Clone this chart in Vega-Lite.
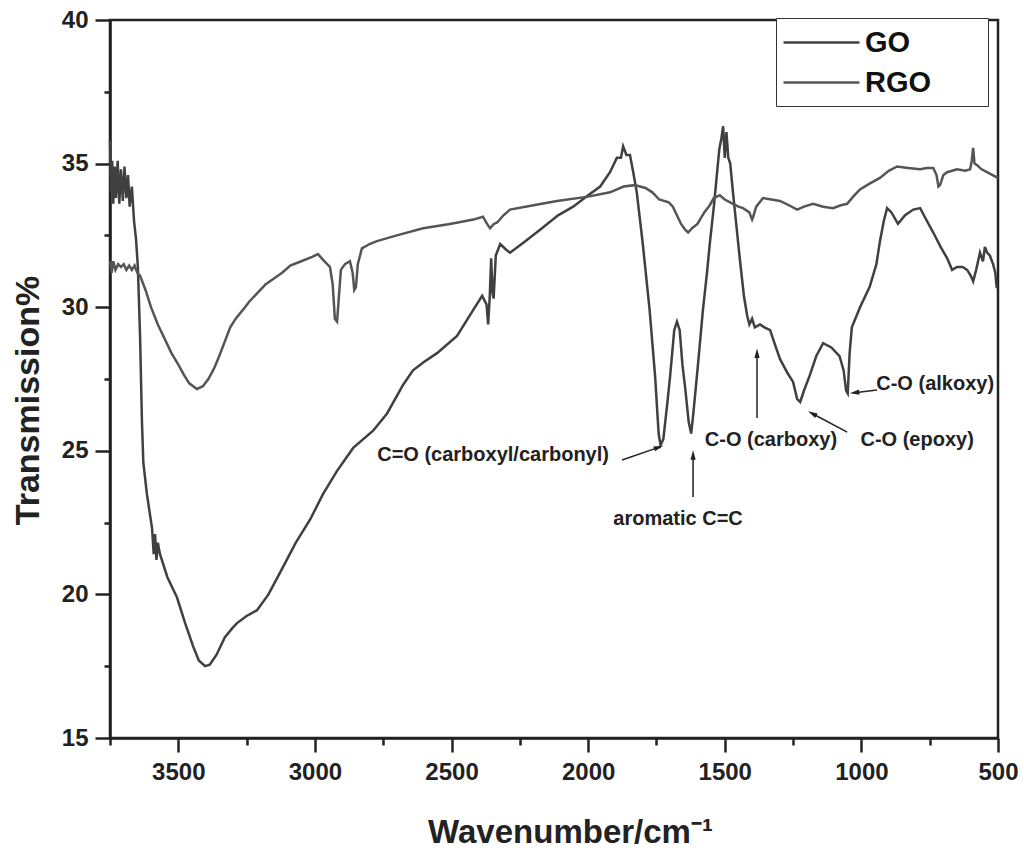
{
  "$schema": "https://vega.github.io/schema/vega-lite/v6.json",
  "width": 888,
  "height": 718,
  "autosize": {"type": "none"},
  "padding": {"left": 110, "top": 20, "right": 26, "bottom": 127},
  "background": "white",
  "config": {
    "font": "Liberation Sans",
    "view": {"stroke": "#222222", "strokeWidth": 2.5}
  },
  "datasets": {
    "spectra": [
      {"sample": "GO", "wavenumber": 3750, "transmission": 35.8},
      {"sample": "GO", "wavenumber": 3746, "transmission": 34.0},
      {"sample": "GO", "wavenumber": 3742, "transmission": 35.1},
      {"sample": "GO", "wavenumber": 3738, "transmission": 33.6},
      {"sample": "GO", "wavenumber": 3733, "transmission": 34.9},
      {"sample": "GO", "wavenumber": 3728, "transmission": 33.8},
      {"sample": "GO", "wavenumber": 3722, "transmission": 35.1},
      {"sample": "GO", "wavenumber": 3716, "transmission": 33.6},
      {"sample": "GO", "wavenumber": 3710, "transmission": 34.8},
      {"sample": "GO", "wavenumber": 3703, "transmission": 33.7},
      {"sample": "GO", "wavenumber": 3697, "transmission": 34.9},
      {"sample": "GO", "wavenumber": 3690, "transmission": 33.8},
      {"sample": "GO", "wavenumber": 3684, "transmission": 34.6},
      {"sample": "GO", "wavenumber": 3678, "transmission": 33.5},
      {"sample": "GO", "wavenumber": 3670, "transmission": 34.2},
      {"sample": "GO", "wavenumber": 3662, "transmission": 33.0},
      {"sample": "GO", "wavenumber": 3655, "transmission": 32.4},
      {"sample": "GO", "wavenumber": 3648, "transmission": 31.4},
      {"sample": "GO", "wavenumber": 3640, "transmission": 29.0},
      {"sample": "GO", "wavenumber": 3633, "transmission": 26.0},
      {"sample": "GO", "wavenumber": 3628, "transmission": 24.6},
      {"sample": "GO", "wavenumber": 3615, "transmission": 23.5},
      {"sample": "GO", "wavenumber": 3604, "transmission": 22.8},
      {"sample": "GO", "wavenumber": 3596, "transmission": 22.3},
      {"sample": "GO", "wavenumber": 3590, "transmission": 21.4},
      {"sample": "GO", "wavenumber": 3585, "transmission": 22.1},
      {"sample": "GO", "wavenumber": 3580, "transmission": 21.2},
      {"sample": "GO", "wavenumber": 3575, "transmission": 21.8},
      {"sample": "GO", "wavenumber": 3567, "transmission": 21.4},
      {"sample": "GO", "wavenumber": 3540, "transmission": 20.6},
      {"sample": "GO", "wavenumber": 3505, "transmission": 19.9},
      {"sample": "GO", "wavenumber": 3475, "transmission": 19.0},
      {"sample": "GO", "wavenumber": 3446, "transmission": 18.2},
      {"sample": "GO", "wavenumber": 3425, "transmission": 17.7},
      {"sample": "GO", "wavenumber": 3402, "transmission": 17.5},
      {"sample": "GO", "wavenumber": 3385, "transmission": 17.55},
      {"sample": "GO", "wavenumber": 3360, "transmission": 17.9},
      {"sample": "GO", "wavenumber": 3330, "transmission": 18.5},
      {"sample": "GO", "wavenumber": 3300, "transmission": 18.85},
      {"sample": "GO", "wavenumber": 3285, "transmission": 19.0},
      {"sample": "GO", "wavenumber": 3250, "transmission": 19.25},
      {"sample": "GO", "wavenumber": 3212, "transmission": 19.45},
      {"sample": "GO", "wavenumber": 3170, "transmission": 20.0},
      {"sample": "GO", "wavenumber": 3117, "transmission": 20.95},
      {"sample": "GO", "wavenumber": 3070, "transmission": 21.8},
      {"sample": "GO", "wavenumber": 3018, "transmission": 22.6},
      {"sample": "GO", "wavenumber": 2970, "transmission": 23.5},
      {"sample": "GO", "wavenumber": 2919, "transmission": 24.3},
      {"sample": "GO", "wavenumber": 2860, "transmission": 25.1},
      {"sample": "GO", "wavenumber": 2787, "transmission": 25.7},
      {"sample": "GO", "wavenumber": 2736, "transmission": 26.3},
      {"sample": "GO", "wavenumber": 2677, "transmission": 27.3},
      {"sample": "GO", "wavenumber": 2641, "transmission": 27.8},
      {"sample": "GO", "wavenumber": 2600, "transmission": 28.1},
      {"sample": "GO", "wavenumber": 2553, "transmission": 28.4},
      {"sample": "GO", "wavenumber": 2480, "transmission": 29.0},
      {"sample": "GO", "wavenumber": 2421, "transmission": 29.9},
      {"sample": "GO", "wavenumber": 2388, "transmission": 30.4},
      {"sample": "GO", "wavenumber": 2372, "transmission": 30.1},
      {"sample": "GO", "wavenumber": 2366, "transmission": 29.4},
      {"sample": "GO", "wavenumber": 2360, "transmission": 30.4},
      {"sample": "GO", "wavenumber": 2355, "transmission": 31.7},
      {"sample": "GO", "wavenumber": 2350, "transmission": 30.5},
      {"sample": "GO", "wavenumber": 2346, "transmission": 30.3},
      {"sample": "GO", "wavenumber": 2338, "transmission": 31.8},
      {"sample": "GO", "wavenumber": 2322, "transmission": 32.2},
      {"sample": "GO", "wavenumber": 2300, "transmission": 32.0},
      {"sample": "GO", "wavenumber": 2286, "transmission": 31.9},
      {"sample": "GO", "wavenumber": 2230, "transmission": 32.3},
      {"sample": "GO", "wavenumber": 2176, "transmission": 32.7},
      {"sample": "GO", "wavenumber": 2110, "transmission": 33.2},
      {"sample": "GO", "wavenumber": 2055, "transmission": 33.5},
      {"sample": "GO", "wavenumber": 2000, "transmission": 33.9},
      {"sample": "GO", "wavenumber": 1956, "transmission": 34.2},
      {"sample": "GO", "wavenumber": 1920, "transmission": 34.7},
      {"sample": "GO", "wavenumber": 1895, "transmission": 35.2},
      {"sample": "GO", "wavenumber": 1880, "transmission": 35.2},
      {"sample": "GO", "wavenumber": 1872, "transmission": 35.6},
      {"sample": "GO", "wavenumber": 1860, "transmission": 35.3},
      {"sample": "GO", "wavenumber": 1847, "transmission": 35.3},
      {"sample": "GO", "wavenumber": 1835, "transmission": 34.7},
      {"sample": "GO", "wavenumber": 1822, "transmission": 34.0},
      {"sample": "GO", "wavenumber": 1800, "transmission": 32.2},
      {"sample": "GO", "wavenumber": 1775, "transmission": 29.9},
      {"sample": "GO", "wavenumber": 1755, "transmission": 27.6},
      {"sample": "GO", "wavenumber": 1742, "transmission": 25.6},
      {"sample": "GO", "wavenumber": 1735, "transmission": 25.2},
      {"sample": "GO", "wavenumber": 1725, "transmission": 25.4},
      {"sample": "GO", "wavenumber": 1712, "transmission": 26.5},
      {"sample": "GO", "wavenumber": 1700, "transmission": 27.6},
      {"sample": "GO", "wavenumber": 1685, "transmission": 29.2},
      {"sample": "GO", "wavenumber": 1675, "transmission": 29.5},
      {"sample": "GO", "wavenumber": 1665, "transmission": 29.2},
      {"sample": "GO", "wavenumber": 1655, "transmission": 28.0},
      {"sample": "GO", "wavenumber": 1645, "transmission": 27.2},
      {"sample": "GO", "wavenumber": 1632, "transmission": 26.0},
      {"sample": "GO", "wavenumber": 1623, "transmission": 25.6},
      {"sample": "GO", "wavenumber": 1615, "transmission": 26.3},
      {"sample": "GO", "wavenumber": 1600, "transmission": 27.8},
      {"sample": "GO", "wavenumber": 1580, "transmission": 29.9},
      {"sample": "GO", "wavenumber": 1565, "transmission": 31.2},
      {"sample": "GO", "wavenumber": 1555, "transmission": 32.2},
      {"sample": "GO", "wavenumber": 1540, "transmission": 33.5},
      {"sample": "GO", "wavenumber": 1530, "transmission": 34.5},
      {"sample": "GO", "wavenumber": 1520, "transmission": 35.5},
      {"sample": "GO", "wavenumber": 1512, "transmission": 35.9},
      {"sample": "GO", "wavenumber": 1506, "transmission": 36.3},
      {"sample": "GO", "wavenumber": 1500, "transmission": 35.2},
      {"sample": "GO", "wavenumber": 1494, "transmission": 36.1},
      {"sample": "GO", "wavenumber": 1487, "transmission": 35.2},
      {"sample": "GO", "wavenumber": 1480, "transmission": 35.0},
      {"sample": "GO", "wavenumber": 1470, "transmission": 34.0},
      {"sample": "GO", "wavenumber": 1457, "transmission": 32.8},
      {"sample": "GO", "wavenumber": 1444, "transmission": 31.6},
      {"sample": "GO", "wavenumber": 1430, "transmission": 30.4},
      {"sample": "GO", "wavenumber": 1418, "transmission": 29.7},
      {"sample": "GO", "wavenumber": 1410, "transmission": 29.4},
      {"sample": "GO", "wavenumber": 1400, "transmission": 29.6},
      {"sample": "GO", "wavenumber": 1390, "transmission": 29.3},
      {"sample": "GO", "wavenumber": 1371, "transmission": 29.4},
      {"sample": "GO", "wavenumber": 1355, "transmission": 29.3},
      {"sample": "GO", "wavenumber": 1334, "transmission": 29.2},
      {"sample": "GO", "wavenumber": 1320, "transmission": 28.8},
      {"sample": "GO", "wavenumber": 1298, "transmission": 28.2},
      {"sample": "GO", "wavenumber": 1270, "transmission": 27.7},
      {"sample": "GO", "wavenumber": 1250, "transmission": 27.4},
      {"sample": "GO", "wavenumber": 1235, "transmission": 26.8},
      {"sample": "GO", "wavenumber": 1224, "transmission": 26.7},
      {"sample": "GO", "wavenumber": 1210, "transmission": 27.1},
      {"sample": "GO", "wavenumber": 1190, "transmission": 27.6},
      {"sample": "GO", "wavenumber": 1165, "transmission": 28.3},
      {"sample": "GO", "wavenumber": 1140, "transmission": 28.75},
      {"sample": "GO", "wavenumber": 1110, "transmission": 28.6},
      {"sample": "GO", "wavenumber": 1080, "transmission": 28.3},
      {"sample": "GO", "wavenumber": 1065, "transmission": 27.8},
      {"sample": "GO", "wavenumber": 1056, "transmission": 27.1},
      {"sample": "GO", "wavenumber": 1050, "transmission": 27.0},
      {"sample": "GO", "wavenumber": 1043, "transmission": 28.4},
      {"sample": "GO", "wavenumber": 1035, "transmission": 29.3},
      {"sample": "GO", "wavenumber": 1005, "transmission": 30.0},
      {"sample": "GO", "wavenumber": 970, "transmission": 30.7},
      {"sample": "GO", "wavenumber": 945, "transmission": 31.5},
      {"sample": "GO", "wavenumber": 932, "transmission": 32.3},
      {"sample": "GO", "wavenumber": 918, "transmission": 33.0},
      {"sample": "GO", "wavenumber": 906, "transmission": 33.45},
      {"sample": "GO", "wavenumber": 890, "transmission": 33.3},
      {"sample": "GO", "wavenumber": 866, "transmission": 32.9},
      {"sample": "GO", "wavenumber": 840, "transmission": 33.2},
      {"sample": "GO", "wavenumber": 810, "transmission": 33.4},
      {"sample": "GO", "wavenumber": 785, "transmission": 33.45},
      {"sample": "GO", "wavenumber": 760, "transmission": 33.0},
      {"sample": "GO", "wavenumber": 737, "transmission": 32.6},
      {"sample": "GO", "wavenumber": 710, "transmission": 32.1},
      {"sample": "GO", "wavenumber": 686, "transmission": 31.7},
      {"sample": "GO", "wavenumber": 668, "transmission": 31.3},
      {"sample": "GO", "wavenumber": 650, "transmission": 31.4},
      {"sample": "GO", "wavenumber": 630, "transmission": 31.4},
      {"sample": "GO", "wavenumber": 613, "transmission": 31.3},
      {"sample": "GO", "wavenumber": 600, "transmission": 31.1},
      {"sample": "GO", "wavenumber": 591, "transmission": 30.9},
      {"sample": "GO", "wavenumber": 580, "transmission": 31.3},
      {"sample": "GO", "wavenumber": 566, "transmission": 31.9},
      {"sample": "GO", "wavenumber": 555, "transmission": 31.6},
      {"sample": "GO", "wavenumber": 548, "transmission": 32.1},
      {"sample": "GO", "wavenumber": 540, "transmission": 31.9},
      {"sample": "GO", "wavenumber": 530, "transmission": 31.8},
      {"sample": "GO", "wavenumber": 518, "transmission": 31.5},
      {"sample": "GO", "wavenumber": 510, "transmission": 31.2},
      {"sample": "GO", "wavenumber": 505, "transmission": 30.7},
      {"sample": "GO", "wavenumber": 500, "transmission": 30.7},
      {"sample": "RGO", "wavenumber": 3750, "transmission": 31.6},
      {"sample": "RGO", "wavenumber": 3744, "transmission": 31.2},
      {"sample": "RGO", "wavenumber": 3738, "transmission": 31.6},
      {"sample": "RGO", "wavenumber": 3730, "transmission": 31.3},
      {"sample": "RGO", "wavenumber": 3720, "transmission": 31.5},
      {"sample": "RGO", "wavenumber": 3710, "transmission": 31.4},
      {"sample": "RGO", "wavenumber": 3700, "transmission": 31.5},
      {"sample": "RGO", "wavenumber": 3690, "transmission": 31.3},
      {"sample": "RGO", "wavenumber": 3680, "transmission": 31.45},
      {"sample": "RGO", "wavenumber": 3670, "transmission": 31.3},
      {"sample": "RGO", "wavenumber": 3660, "transmission": 31.45},
      {"sample": "RGO", "wavenumber": 3650, "transmission": 31.2},
      {"sample": "RGO", "wavenumber": 3640, "transmission": 31.1},
      {"sample": "RGO", "wavenumber": 3620, "transmission": 30.6},
      {"sample": "RGO", "wavenumber": 3600, "transmission": 30.0},
      {"sample": "RGO", "wavenumber": 3575, "transmission": 29.4},
      {"sample": "RGO", "wavenumber": 3550, "transmission": 28.9},
      {"sample": "RGO", "wavenumber": 3525, "transmission": 28.4},
      {"sample": "RGO", "wavenumber": 3500, "transmission": 28.0},
      {"sample": "RGO", "wavenumber": 3480, "transmission": 27.65},
      {"sample": "RGO", "wavenumber": 3460, "transmission": 27.35},
      {"sample": "RGO", "wavenumber": 3432, "transmission": 27.15},
      {"sample": "RGO", "wavenumber": 3410, "transmission": 27.25},
      {"sample": "RGO", "wavenumber": 3390, "transmission": 27.5},
      {"sample": "RGO", "wavenumber": 3370, "transmission": 27.85},
      {"sample": "RGO", "wavenumber": 3350, "transmission": 28.3},
      {"sample": "RGO", "wavenumber": 3330, "transmission": 28.8},
      {"sample": "RGO", "wavenumber": 3310, "transmission": 29.3},
      {"sample": "RGO", "wavenumber": 3290, "transmission": 29.6},
      {"sample": "RGO", "wavenumber": 3260, "transmission": 29.95},
      {"sample": "RGO", "wavenumber": 3240, "transmission": 30.2},
      {"sample": "RGO", "wavenumber": 3210, "transmission": 30.5},
      {"sample": "RGO", "wavenumber": 3180, "transmission": 30.8},
      {"sample": "RGO", "wavenumber": 3150, "transmission": 31.0},
      {"sample": "RGO", "wavenumber": 3120, "transmission": 31.2},
      {"sample": "RGO", "wavenumber": 3090, "transmission": 31.45},
      {"sample": "RGO", "wavenumber": 3050, "transmission": 31.6},
      {"sample": "RGO", "wavenumber": 3010, "transmission": 31.75},
      {"sample": "RGO", "wavenumber": 2989, "transmission": 31.85},
      {"sample": "RGO", "wavenumber": 2970, "transmission": 31.65},
      {"sample": "RGO", "wavenumber": 2945, "transmission": 31.4},
      {"sample": "RGO", "wavenumber": 2935, "transmission": 30.8},
      {"sample": "RGO", "wavenumber": 2927, "transmission": 29.6},
      {"sample": "RGO", "wavenumber": 2919, "transmission": 29.5},
      {"sample": "RGO", "wavenumber": 2912, "transmission": 30.4},
      {"sample": "RGO", "wavenumber": 2905, "transmission": 31.3},
      {"sample": "RGO", "wavenumber": 2890, "transmission": 31.5},
      {"sample": "RGO", "wavenumber": 2872, "transmission": 31.6},
      {"sample": "RGO", "wavenumber": 2862, "transmission": 31.2},
      {"sample": "RGO", "wavenumber": 2856, "transmission": 30.6},
      {"sample": "RGO", "wavenumber": 2850, "transmission": 30.7},
      {"sample": "RGO", "wavenumber": 2843, "transmission": 31.5},
      {"sample": "RGO", "wavenumber": 2828, "transmission": 32.05},
      {"sample": "RGO", "wavenumber": 2800, "transmission": 32.2},
      {"sample": "RGO", "wavenumber": 2773, "transmission": 32.3},
      {"sample": "RGO", "wavenumber": 2700, "transmission": 32.5},
      {"sample": "RGO", "wavenumber": 2604, "transmission": 32.75},
      {"sample": "RGO", "wavenumber": 2506, "transmission": 32.9},
      {"sample": "RGO", "wavenumber": 2420, "transmission": 33.05},
      {"sample": "RGO", "wavenumber": 2385, "transmission": 33.15},
      {"sample": "RGO", "wavenumber": 2370, "transmission": 32.9},
      {"sample": "RGO", "wavenumber": 2359, "transmission": 32.75},
      {"sample": "RGO", "wavenumber": 2345, "transmission": 32.9},
      {"sample": "RGO", "wavenumber": 2333, "transmission": 32.95},
      {"sample": "RGO", "wavenumber": 2310, "transmission": 33.2},
      {"sample": "RGO", "wavenumber": 2286, "transmission": 33.4},
      {"sample": "RGO", "wavenumber": 2200, "transmission": 33.55},
      {"sample": "RGO", "wavenumber": 2114, "transmission": 33.7},
      {"sample": "RGO", "wavenumber": 2000, "transmission": 33.85},
      {"sample": "RGO", "wavenumber": 1920, "transmission": 34.0},
      {"sample": "RGO", "wavenumber": 1870, "transmission": 34.2},
      {"sample": "RGO", "wavenumber": 1830, "transmission": 34.25},
      {"sample": "RGO", "wavenumber": 1790, "transmission": 34.15},
      {"sample": "RGO", "wavenumber": 1765, "transmission": 34.0},
      {"sample": "RGO", "wavenumber": 1740, "transmission": 33.75},
      {"sample": "RGO", "wavenumber": 1705, "transmission": 33.65},
      {"sample": "RGO", "wavenumber": 1690, "transmission": 33.5},
      {"sample": "RGO", "wavenumber": 1680, "transmission": 33.3},
      {"sample": "RGO", "wavenumber": 1660, "transmission": 32.9},
      {"sample": "RGO", "wavenumber": 1645, "transmission": 32.7},
      {"sample": "RGO", "wavenumber": 1634, "transmission": 32.6},
      {"sample": "RGO", "wavenumber": 1620, "transmission": 32.75},
      {"sample": "RGO", "wavenumber": 1600, "transmission": 32.9},
      {"sample": "RGO", "wavenumber": 1575, "transmission": 33.3},
      {"sample": "RGO", "wavenumber": 1555, "transmission": 33.55},
      {"sample": "RGO", "wavenumber": 1540, "transmission": 33.8},
      {"sample": "RGO", "wavenumber": 1518, "transmission": 33.9},
      {"sample": "RGO", "wavenumber": 1500, "transmission": 33.75},
      {"sample": "RGO", "wavenumber": 1470, "transmission": 33.6},
      {"sample": "RGO", "wavenumber": 1450, "transmission": 33.5},
      {"sample": "RGO", "wavenumber": 1433, "transmission": 33.45},
      {"sample": "RGO", "wavenumber": 1410, "transmission": 33.3},
      {"sample": "RGO", "wavenumber": 1400, "transmission": 33.05},
      {"sample": "RGO", "wavenumber": 1396, "transmission": 33.15},
      {"sample": "RGO", "wavenumber": 1385, "transmission": 33.5},
      {"sample": "RGO", "wavenumber": 1360, "transmission": 33.8},
      {"sample": "RGO", "wavenumber": 1330, "transmission": 33.75},
      {"sample": "RGO", "wavenumber": 1298, "transmission": 33.7},
      {"sample": "RGO", "wavenumber": 1265, "transmission": 33.55},
      {"sample": "RGO", "wavenumber": 1235, "transmission": 33.4},
      {"sample": "RGO", "wavenumber": 1210, "transmission": 33.5},
      {"sample": "RGO", "wavenumber": 1177, "transmission": 33.6},
      {"sample": "RGO", "wavenumber": 1140, "transmission": 33.5},
      {"sample": "RGO", "wavenumber": 1104, "transmission": 33.45},
      {"sample": "RGO", "wavenumber": 1075, "transmission": 33.55},
      {"sample": "RGO", "wavenumber": 1052, "transmission": 33.6},
      {"sample": "RGO", "wavenumber": 1030, "transmission": 33.85},
      {"sample": "RGO", "wavenumber": 1005, "transmission": 34.1},
      {"sample": "RGO", "wavenumber": 970, "transmission": 34.3},
      {"sample": "RGO", "wavenumber": 932, "transmission": 34.5},
      {"sample": "RGO", "wavenumber": 900, "transmission": 34.75},
      {"sample": "RGO", "wavenumber": 869, "transmission": 34.9},
      {"sample": "RGO", "wavenumber": 830, "transmission": 34.85},
      {"sample": "RGO", "wavenumber": 785, "transmission": 34.8},
      {"sample": "RGO", "wavenumber": 760, "transmission": 34.85},
      {"sample": "RGO", "wavenumber": 737, "transmission": 34.85},
      {"sample": "RGO", "wavenumber": 725, "transmission": 34.6},
      {"sample": "RGO", "wavenumber": 718, "transmission": 34.2},
      {"sample": "RGO", "wavenumber": 712, "transmission": 34.25},
      {"sample": "RGO", "wavenumber": 700, "transmission": 34.6},
      {"sample": "RGO", "wavenumber": 686, "transmission": 34.7},
      {"sample": "RGO", "wavenumber": 650, "transmission": 34.8},
      {"sample": "RGO", "wavenumber": 620, "transmission": 34.75},
      {"sample": "RGO", "wavenumber": 602, "transmission": 34.8},
      {"sample": "RGO", "wavenumber": 596, "transmission": 35.1},
      {"sample": "RGO", "wavenumber": 591, "transmission": 35.55},
      {"sample": "RGO", "wavenumber": 586, "transmission": 35.0},
      {"sample": "RGO", "wavenumber": 577, "transmission": 34.95},
      {"sample": "RGO", "wavenumber": 560, "transmission": 34.8},
      {"sample": "RGO", "wavenumber": 540, "transmission": 34.7},
      {"sample": "RGO", "wavenumber": 520, "transmission": 34.6},
      {"sample": "RGO", "wavenumber": 500, "transmission": 34.5}
    ],
    "labels": [
      {"label": "C=O (carboxyl/carbonyl)", "wavenumber": 2348, "transmission": 24.85},
      {"label": "aromatic C=C", "wavenumber": 1671, "transmission": 22.62},
      {"label": "C-O (carboxy)", "wavenumber": 1331, "transmission": 25.38},
      {"label": "C-O (epoxy)", "wavenumber": 796, "transmission": 25.38},
      {"label": "C-O (alkoxy)", "wavenumber": 730, "transmission": 27.33}
    ],
    "arrows": [
      {"arrow": "carbonyl", "wavenumber": 1876, "transmission": 24.68, "wavenumber2": 1742, "transmission2": 25.12},
      {"arrow": "aromatic", "wavenumber": 1616, "transmission": 23.39, "wavenumber2": 1616, "transmission2": 24.85},
      {"arrow": "carboxy", "wavenumber": 1382, "transmission": 26.14, "wavenumber2": 1382, "transmission2": 28.4},
      {"arrow": "epoxy", "wavenumber": 1052, "transmission": 25.65, "wavenumber2": 1180, "transmission2": 26.3},
      {"arrow": "alkoxy", "wavenumber": 943, "transmission": 27.12, "wavenumber2": 1025, "transmission2": 27.02}
    ]
  },
  "encoding": {
    "x": {
      "field": "wavenumber",
      "type": "quantitative",
      "scale": {"domain": [500, 3750], "reverse": true, "nice": false, "zero": false},
      "axis": {
        "title": "Wavenumber/cm⁻¹",
        "values": [3750, 3500, 3250, 3000, 2750, 2500, 2250, 2000, 1750, 1500, 1250, 1000, 750, 500],
        "format": "d",
        "labelExpr": "datum.value % 500 === 0 ? datum.label : ''",
        "labelOverlap": false,
        "labelFlush": false,
        "grid": false,
        "domainColor": "#222222",
        "domainWidth": 2.5,
        "tickColor": "#222222",
        "tickWidth": 2.5,
        "tickSize": {"condition": {"test": "datum.value % 500 === 0", "value": 14}, "value": 7},
        "labelFontSize": 24,
        "labelFontWeight": "bold",
        "labelColor": "#222222",
        "labelPadding": 8,
        "titleFontSize": 33,
        "titleFontWeight": "bold",
        "titleColor": "#222222",
        "titlePadding": 32,
        "titleX": 460
      }
    },
    "y": {
      "field": "transmission",
      "type": "quantitative",
      "scale": {"domain": [15, 40], "nice": false, "zero": false},
      "axis": {
        "title": "Transmission%",
        "values": [15, 17.5, 20, 22.5, 25, 27.5, 30, 32.5, 35, 37.5, 40],
        "labelExpr": "datum.value % 5 === 0 ? datum.label : ''",
        "labelOverlap": false,
        "labelFlush": false,
        "grid": false,
        "domainColor": "#222222",
        "domainWidth": 2.5,
        "tickColor": "#222222",
        "tickWidth": 2.5,
        "tickSize": {"condition": {"test": "datum.value % 5 === 0", "value": 15}, "value": 6},
        "labelFontSize": 24,
        "labelFontWeight": "bold",
        "labelColor": "#222222",
        "labelPadding": 7,
        "titleFontSize": 34,
        "titleFontWeight": "bold",
        "titleColor": "#222222",
        "titlePadding": 16,
        "titleY": 380
      }
    }
  },
  "layer": [
    {
      "data": {"name": "spectra"},
      "mark": {"type": "line", "strokeWidth": 2.5, "interpolate": "linear"},
      "encoding": {
        "color": {
          "field": "sample",
          "type": "nominal",
          "scale": {"domain": ["GO", "RGO"], "range": ["#404040", "#555555"]},
          "legend": {
            "title": null,
            "orient": "none",
            "legendX": 666,
            "legendY": -2,
            "direction": "vertical",
            "fillColor": "white",
            "strokeColor": "#333333",
            "padding": 8,
            "symbolType": "M-2.53,0H2.53",
            "symbolSize": 900,
            "symbolStrokeWidth": 2.5,
            "symbolOffset": 21,
            "labelFontSize": 29,
            "labelFontWeight": "bold",
            "labelColor": "#111111",
            "labelOffset": 27,
            "rowPadding": 8,
            "labelExpr": "datum.label + '\u00a0\u00a0\u00a0\u00a0\u00a0\u00a0\u200b'"
          }
        }
      }
    },
    {
      "data": {"name": "arrows"},
      "mark": {"type": "rule", "strokeWidth": 1.5, "color": "#222222"},
      "encoding": {
        "x2": {"field": "wavenumber2"},
        "y2": {"field": "transmission2"}
      }
    },
    {
      "data": {"name": "arrows"},
      "transform": [{"filter": "datum.arrow === 'aromatic' || datum.arrow === 'carboxy'"}],
      "mark": {"type": "point", "shape": "M0,-1L0.55,1L-0.55,1Z", "size": 90, "filled": true, "color": "#222222", "opacity": 1, "angle": 0},
      "encoding": {
        "x": {"field": "wavenumber2", "type": "quantitative"},
        "y": {"field": "transmission2", "type": "quantitative"}
      }
    },
    {
      "data": {"name": "arrows"},
      "transform": [{"filter": "datum.arrow === 'carbonyl'"}],
      "mark": {"type": "point", "shape": "M0,-1L0.55,1L-0.55,1Z", "size": 90, "filled": true, "color": "#222222", "opacity": 1, "angle": 71},
      "encoding": {
        "x": {"field": "wavenumber2", "type": "quantitative"},
        "y": {"field": "transmission2", "type": "quantitative"}
      }
    },
    {
      "data": {"name": "arrows"},
      "transform": [{"filter": "datum.arrow === 'epoxy'"}],
      "mark": {"type": "point", "shape": "M0,-1L0.55,1L-0.55,1Z", "size": 90, "filled": true, "color": "#222222", "opacity": 1, "angle": 298},
      "encoding": {
        "x": {"field": "wavenumber2", "type": "quantitative"},
        "y": {"field": "transmission2", "type": "quantitative"}
      }
    },
    {
      "data": {"name": "arrows"},
      "transform": [{"filter": "datum.arrow === 'alkoxy'"}],
      "mark": {"type": "point", "shape": "M0,-1L0.55,1L-0.55,1Z", "size": 90, "filled": true, "color": "#222222", "opacity": 1, "angle": 263},
      "encoding": {
        "x": {"field": "wavenumber2", "type": "quantitative"},
        "y": {"field": "transmission2", "type": "quantitative"}
      }
    },
    {
      "data": {"name": "labels"},
      "mark": {"type": "text", "fontSize": 20, "fontWeight": "bold", "color": "#222222", "align": "center", "baseline": "middle"},
      "encoding": {"text": {"field": "label"}}
    }
  ]
}
